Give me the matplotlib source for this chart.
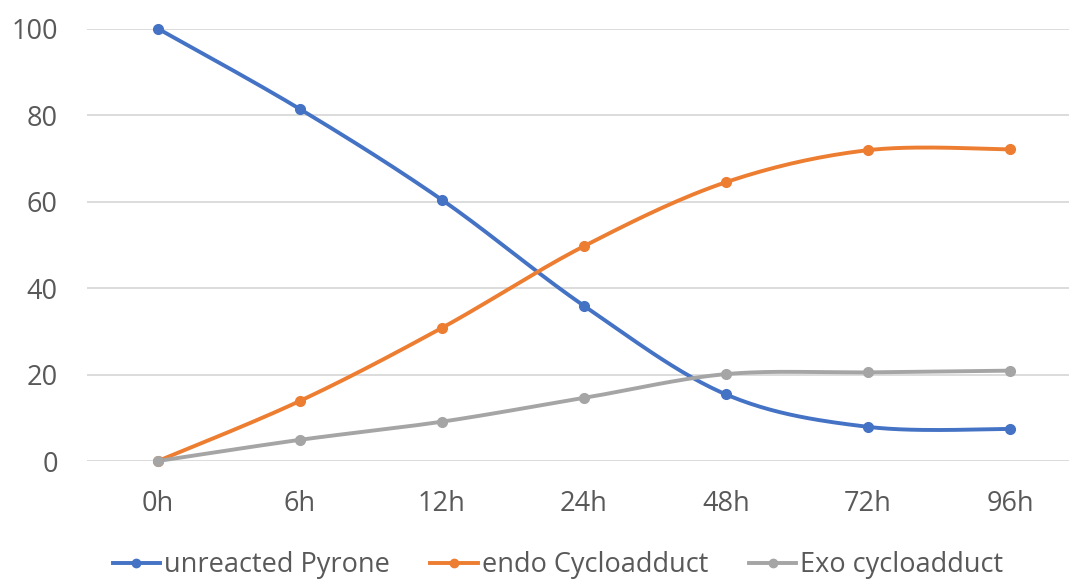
import numpy as np
import matplotlib
matplotlib.use("Agg")
import matplotlib.pyplot as plt

plt.rcParams['font.family'] = ['Open Sans', 'DejaVu Sans']

# data
times = ["0h", "6h", "12h", "24h", "48h", "72h", "96h"]
pyrone = [100, 81.4, 60.4, 35.9, 15.4, 7.9, 7.4]
endo = [0, 13.9, 30.8, 49.7, 64.5, 71.9, 72.1]
exo = [0, 4.9, 9.1, 14.6, 20.1, 20.5, 20.9]

names = ["unreacted Pyrone", "endo Cycloadduct", "Exo cycloadduct"]
colors = ["#4472C4", "#ED7D31", "#A5A5A5"]


def smooth(x, y, n=30):
    # Excel-like smoothed line (Catmull-Rom bezier through points)
    x = np.asarray(x, float)
    y = np.asarray(y, float)
    px = np.concatenate([[x[0]], x, [x[-1]]])
    py = np.concatenate([[y[0]], y, [y[-1]]])
    xs, ys = [], []
    t = np.linspace(0, 1, n)
    for i in range(1, len(px) - 2):
        p0 = np.array([px[i], py[i]])
        p3 = np.array([px[i + 1], py[i + 1]])
        c1 = p0 + (np.array([px[i + 1], py[i + 1]]) - np.array([px[i - 1], py[i - 1]])) / 6
        c2 = p3 - (np.array([px[i + 2], py[i + 2]]) - np.array([px[i], py[i]])) / 6
        b = ((1 - t) ** 3)[:, None] * p0 + (3 * (1 - t) ** 2 * t)[:, None] * c1 \
            + (3 * (1 - t) * t ** 2)[:, None] * c2 + (t ** 3)[:, None] * p3
        xs.extend(b[:, 0])
        ys.extend(b[:, 1])
    return xs, ys


fig = plt.figure(figsize=(10.69, 5.83), dpi=100)
ax = fig.add_axes([87 / 1069, 122 / 583, (1069 - 87) / 1069, (461 - 28.7) / 583])

xpos = np.arange(len(times))
for vals, name, c in zip([pyrone, endo, exo], names, colors):
    sx, sy = smooth(xpos, vals)
    ax.plot(sx, sy, color=c, lw=2.8, solid_capstyle="round", clip_on=False, zorder=3)
    ax.plot(xpos, vals, "o", color=c, ms=7, clip_on=False, zorder=4)
    ax.plot([], [], "-o", color=c, lw=2.8, ms=6, label=name)

ax.set_xlim(-0.5, -0.5 + (1069 - 87) / 142)
ax.set_ylim(0, 100)
ax.set_yticks([0, 20, 40, 60, 80, 100])
ax.set_xticks(xpos)
ax.set_xticklabels(times)
ax.grid(axis="y", color="#D9D9D9", lw=1.3)
ax.set_axisbelow(True)
for s in ax.spines.values():
    s.set_visible(False)
ax.tick_params(length=0, labelsize=19.5, colors="#595959")
ax.tick_params(axis="y", pad=21)
ax.tick_params(axis="x", pad=21)

fig.legend(loc="lower center", bbox_to_anchor=(0.522, -0.035), ncol=3, frameon=False,
           fontsize=19.5, labelcolor="#595959", handlelength=1.75, handletextpad=0.15,
           columnspacing=1.5)

fig.savefig("out.png", dpi=100)
